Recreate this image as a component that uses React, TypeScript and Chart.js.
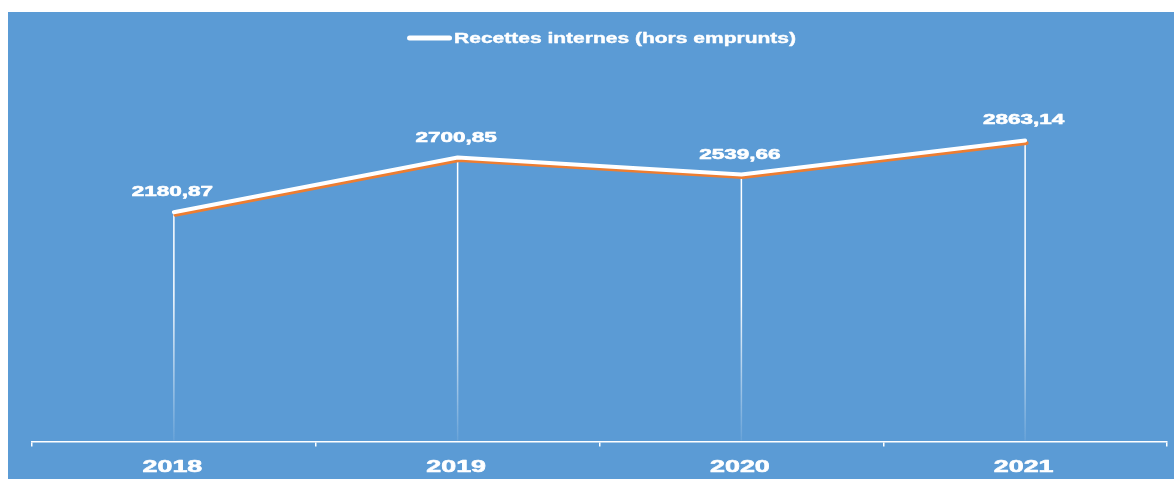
import React, { useEffect, useRef } from 'react';
import { Chart, registerables } from 'chart.js';

Chart.register(...registerables);

const years: string[] = ['2018', '2019', '2020', '2021'];
const recettes: number[] = [2180.87, 2700.85, 2539.66, 2863.14];
const seriesName = 'Recettes internes (hors emprunts)';
const yMin = 0;
const yMax = 3500;

const FONT = "Arial, 'Liberation Sans', sans-serif";
const BLUE = '#5B9BD5';
const ORANGE = '#ED7D31';

const fmt = (v: number) => v.toFixed(2).replace('.', ',');

function drawStretched(
  ctx: CanvasRenderingContext2D,
  text: string,
  x: number,
  baseline: number,
  font: string,
  sx: number,
  align: 'center' | 'left' = 'center',
  weightStroke = 0.6
) {
  ctx.save();
  ctx.font = font;
  ctx.fillStyle = '#ffffff';
  ctx.strokeStyle = '#ffffff';
  ctx.lineWidth = weightStroke;
  ctx.lineJoin = 'round';
  ctx.textBaseline = 'alphabetic';
  ctx.textAlign = 'left';
  const w = ctx.measureText(text).width;
  ctx.translate(x, baseline);
  ctx.scale(sx, 1);
  const tx = align === 'center' ? -w / 2 : 0;
  ctx.fillText(text, tx, 0);
  if (weightStroke > 0) ctx.strokeText(text, tx, 0);
  ctx.restore();
}

const customPlugin = {
  id: 'customDecor',
  beforeDatasetsDraw(chart: any) {
    const ctx: CanvasRenderingContext2D = chart.ctx;
    const ca = chart.chartArea;
    const meta = chart.getDatasetMeta(0);
    ctx.save();
    meta.data.forEach((pt: any) => {
      const g = ctx.createLinearGradient(0, ca.top, 0, ca.bottom);
      g.addColorStop(0, 'rgba(255,255,255,1)');
      g.addColorStop(0.6, 'rgba(255,255,255,1)');
      g.addColorStop(1, 'rgba(255,255,255,0.08)');
      ctx.strokeStyle = g;
      ctx.lineWidth = 1.5;
      ctx.beginPath();
      ctx.moveTo(pt.x, pt.y);
      ctx.lineTo(pt.x, ca.bottom - 1);
      ctx.stroke();
    });
    ctx.restore();
  },
  beforeDatasetDraw(chart: any) {
    const ctx: CanvasRenderingContext2D = chart.ctx;
    ctx.save();
    ctx.shadowColor = ORANGE;
    ctx.shadowOffsetX = 1.5;
    ctx.shadowOffsetY = 2.5;
    ctx.shadowBlur = 0;
  },
  afterDatasetDraw(chart: any) {
    chart.ctx.restore();
  },
  afterDraw(chart: any) {
    const ctx: CanvasRenderingContext2D = chart.ctx;
    const ca = chart.chartArea;
    const meta = chart.getDatasetMeta(0);
    // value labels
    meta.data.forEach((pt: any, i: number) => {
      drawStretched(ctx, fmt(recettes[i]), pt.x - 1.5, pt.y - 16, `bold 15px ${FONT}`, 1.5);
    });
    // x tick labels
    const xs = chart.scales.x;
    years.forEach((y, i) => {
      drawStretched(ctx, y, xs.getPixelForTick(i) - 1.5, ca.bottom + 30.3, `bold 17px ${FONT}`, 1.58);
    });
    // legend
    ctx.save();
    ctx.font = `bold 14px ${FONT}`;
    const sx = 1.5;
    const textW = ctx.measureText(seriesName).width * sx;
    const lineW = 45;
    const gap = 2;
    const total = lineW + gap + textW;
    const cx = (ca.left + ca.right) / 2 + 2;
    const startX = cx - total / 2;
    const ly = 26;
    ctx.strokeStyle = '#ffffff';
    ctx.lineWidth = 5;
    ctx.lineCap = 'round';
    ctx.beginPath();
    ctx.moveTo(startX + 2.5, ly);
    ctx.lineTo(startX + lineW - 2.5, ly);
    ctx.stroke();
    ctx.restore();
    drawStretched(ctx, seriesName, startX + lineW + gap, ly + 5.3, `bold 14px ${FONT}`, sx, 'left', 0.4);
  },
};

function LineChart() {
  const ref = useRef<HTMLCanvasElement | null>(null);
  useEffect(() => {
    if (!ref.current) return;
    const chart = new Chart(ref.current, {
      type: 'line',
      data: {
        labels: years,
        datasets: [
          {
            label: seriesName,
            data: recettes,
            borderColor: '#ffffff',
            backgroundColor: '#ffffff',
            borderWidth: 4,
            borderCapStyle: 'round',
            borderJoinStyle: 'round',
            pointRadius: 0,
            pointHoverRadius: 0,
            tension: 0,
            fill: false,
          },
        ],
      },
      options: {
        animation: false,
        responsive: false,
        maintainAspectRatio: false,
        devicePixelRatio: 1,
        layout: { padding: { top: 61.5, bottom: 3, left: 24, right: 7 } },
        plugins: {
          legend: { display: false },
          tooltip: { enabled: false },
        },
        scales: {
          x: {
            offset: true,
            grid: {
              display: true,
              offset: true,
              drawOnChartArea: false,
              drawTicks: true,
              tickLength: 5,
              color: '#ffffff',
              lineWidth: 1.5,
            },
            border: { display: true, color: '#ffffff', width: 1.5 },
            ticks: {
              color: 'rgba(0,0,0,0)',
              font: { size: 17, weight: 'bold', family: FONT },
              padding: 4.5,
              maxRotation: 0,
            },
          },
          y: {
            display: false,
            min: yMin,
            max: yMax,
          },
        },
      } as any,
      plugins: [customPlugin],
    });
    return () => chart.destroy();
  }, []);
  return (
    <canvas
      ref={ref}
      width={1166}
      height={467}
      style={{ display: 'block', width: 1166, height: 467 }}
    />
  );
}

export default function App() {
  return (
    <div
      style={{
        position: 'absolute',
        left: 8,
        top: 12,
        width: 1166,
        height: 467,
        background: BLUE,
        overflow: 'hidden',
      }}
    >
      <LineChart />
    </div>
  );
}
